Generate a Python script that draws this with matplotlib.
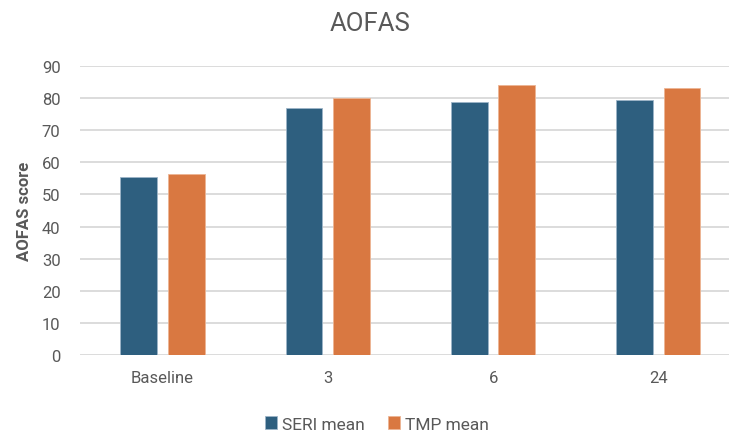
import numpy as np
from matplotlib import pyplot as plt

categories = ['Baseline', '3', '6', '24']
seri_mean = [55.6, 76.9, 78.8, 79.4]
tmp_mean = [56.4, 80.2, 84.1, 83.2]
yticks = [0, 10, 20, 30, 40, 50, 60, 70, 80, 90]

plt.rcParams['font.family'] = ['Roboto', 'DejaVu Sans']
text_color = '#595959'

fig = plt.figure(dpi=100, figsize=(7.29, 4.35))
ax = fig.add_axes([0.1097, 0.1823, 0.907, 0.663])

x = np.arange(len(categories))
w = 0.223
ax.bar(x - 0.145, seri_mean, w, color='#2E5F7F', edgecolor='#9DB5C8', linewidth=0.6,
       label='SERI mean', zorder=3)
ax.bar(x + 0.142, tmp_mean, w, color='#D97841', edgecolor='#EDB594', linewidth=0.6,
       label='TMP mean', zorder=3)

ax.set_xlim(-0.5, len(categories) - 0.5)
ax.set_ylim(0, 90)
ax.set_yticks(yticks)
ax.set_xticks(x)
ax.set_xticklabels(categories)
ax.yaxis.grid(True, color='#D9D9D9', linewidth=1.3, zorder=0)
for s in ax.spines.values():
    s.set_visible(False)
ax.tick_params(axis='both', length=0, labelsize=12, labelcolor=text_color)
ax.tick_params(axis='y', pad=14)
ax.tick_params(axis='x', pad=11)

fig.text(0.034, 0.5135, 'AOFAS score', rotation=90, ha='center', va='center',
         fontsize=12, fontweight='bold', color=text_color)
fig.text(0.507, 0.945, 'AOFAS', ha='center', va='center', fontsize=18.5, color=text_color)

fig.legend(loc='center', bbox_to_anchor=(0.517, 0.023), ncol=2, frameon=False,
           fontsize=12.5, handlelength=0.7, handleheight=0.7, handletextpad=0.3,
           columnspacing=1.3, labelcolor=text_color)

plt.savefig('out.png', dpi=100)
